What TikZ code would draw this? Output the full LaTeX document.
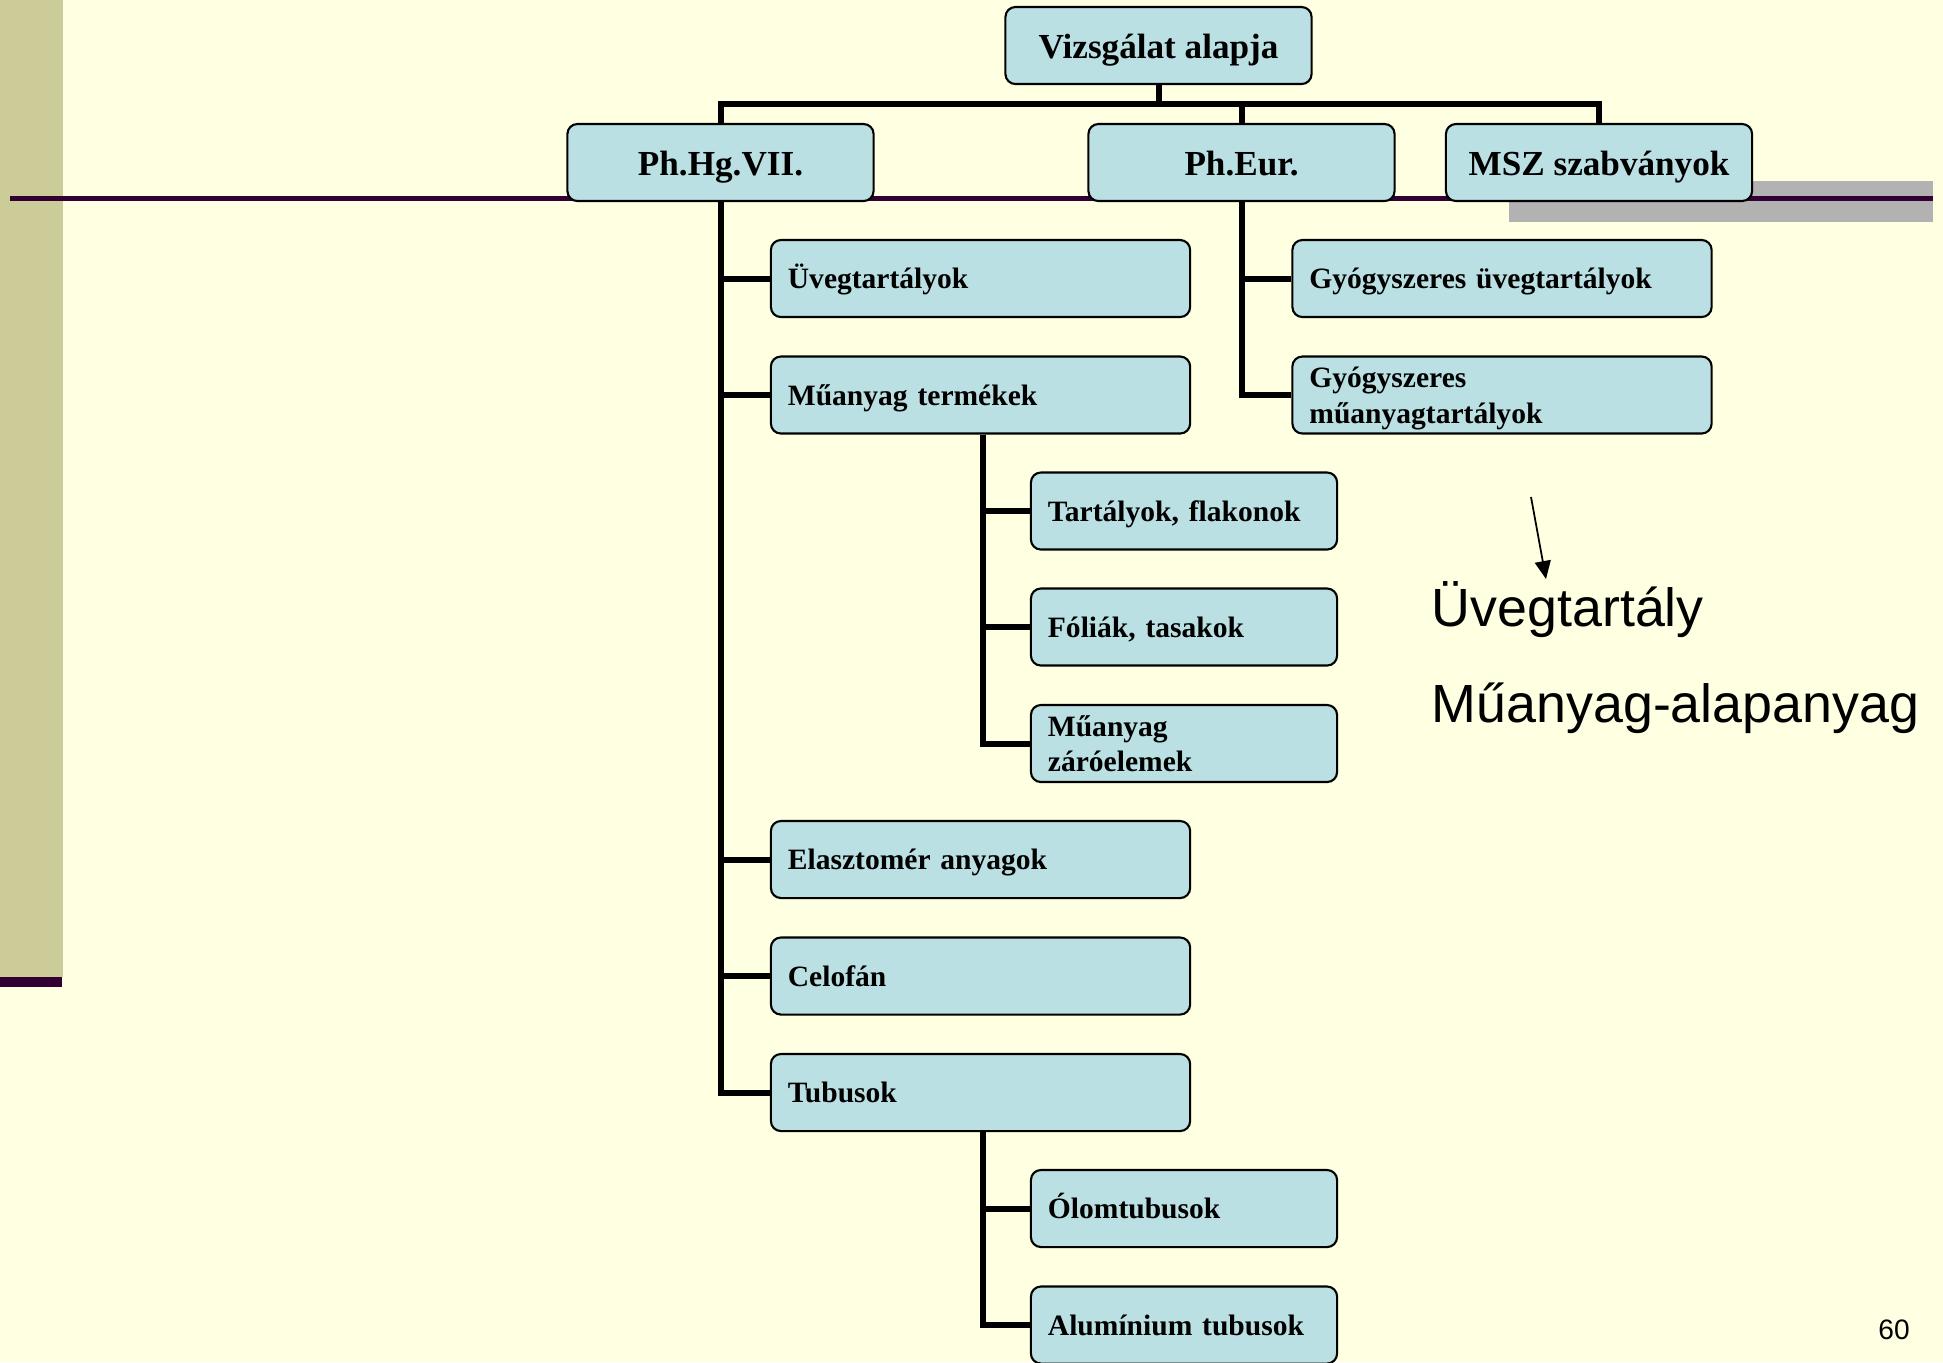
\documentclass[tikz,border=0pt]{standalone}
\usepackage{fontspec}
\setmainfont{Liberation Serif}
\newfontfamily\notefont{Liberation Sans}
\usetikzlibrary{arrows.meta,positioning}
\definecolor{SlideYellow}{RGB}{255,255,225}
\definecolor{SlideOlive}{RGB}{204,204,153}
\definecolor{SlidePlum}{RGB}{51,0,51}
\definecolor{SlideGray}{RGB}{178,178,178}
\definecolor{BoxBlue}{RGB}{187,224,227}

\begin{document}
\begin{tikzpicture}[x=0.01cm,y=-0.01cm,
  box/.style={draw=black,line width=0.6pt,fill=BoxBlue,rounded corners=0.1cm,minimum height=0.77cm,inner xsep=0.17cm,inner ysep=0pt},
  headbox/.style={box,minimum width=3.06cm,text height=0.25cm,text depth=0cm,font=\fontsize{10}{12}\selectfont\bfseries},
  widebox/.style={box,text width=3.85cm,align=left,text height=0.2cm,text depth=0cm,font=\fontsize{8.4}{10}\selectfont\bfseries},
  smallbox/.style={box,text width=2.72cm,align=left,text height=0.2cm,text depth=0cm,font=\fontsize{8.4}{10}\selectfont\bfseries},
  twoline/.style={text height=0.21cm,text depth=0.352cm},
  link/.style={line width=1.7pt},
  note/.style={font=\notefont\fontsize{15.3}{18}\selectfont,anchor=base west,inner sep=0pt}]
\useasboundingbox (0,0) rectangle (1943,1362);
% slide background
\fill[SlideYellow] (0,0) rectangle (1943,1362);
\fill[SlideOlive] (0,0) rectangle (63,977);
\fill[SlidePlum] (0,977) rectangle (62,987);
\fill[SlideGray] (1509,181) rectangle (1933,222);
\fill[SlidePlum] (10,196) rectangle (1933,201);
% boxes
\node[headbox] (top) at (1158.5,45.5){Vizsgálat alapja};
\node[headbox] (phhg) at (720.5,162.5){Ph.Hg.VII.};
\node[headbox] (pheur) at (1241.5,162.5){Ph.Eur.};
\node[headbox] (msz) at (1599,162.5){MSZ szabványok};
\node[widebox] (uveg) at (980.5,278.5){Üvegtartályok};
\node[widebox] (muanyag) at (980.5,395){Műanyag termékek};
\node[smallbox] (tartaly) at (1184,511){Tartályok, flakonok};
\node[smallbox] (folia) at (1184,627){Fóliák, tasakok};
\node[smallbox,twoline] (zaro) at (1184,743.5){Műanyag\\záróelemek};
\node[widebox] (elaszt) at (980.5,859.5){Elasztomér anyagok};
\node[widebox] (celofan) at (980.5,976){Celofán};
\node[widebox] (tubus) at (980.5,1092.5){Tubusok};
\node[smallbox] (olom) at (1184,1208.5){Ólomtubusok};
\node[smallbox] (alu) at (1184,1325){Alumínium tubusok};
\node[widebox] (gyuveg) at (1502,278.5){Gyógyszeres üvegtartályok};
\node[widebox,twoline] (gymu) at (1502,395){Gyógyszeres\\műanyagtartályok};
% connectors
\coordinate (bar) at (1158.5,104);
\draw[link] (top.south) -- (bar);
\draw[link] (phhg.north) |- (bar) -| (msz.north);
\draw[link] (pheur.north) -- (pheur.north |- bar);
\foreach \c in {uveg,muanyag,elaszt,celofan,tubus}
  \draw[link] (phhg.south) |- (\c.west);
\foreach \c in {tartaly,folia,zaro}
  \draw[link] ([xshift=0.025cm]muanyag.south) |- (\c.west);
\foreach \c in {olom,alu}
  \draw[link] ([xshift=0.025cm]tubus.south) |- (\c.west);
\foreach \c in {gyuveg,gymu}
  \draw[link] (pheur.south) |- (\c.west);
% note on the right
\coordinate (arrfrom) at (1531,497);
\coordinate (arrto) at (1546,579);
\draw[line width=0.5pt,-{Triangle[length=0.18cm,width=0.16cm]}] (arrfrom) -- (arrto);
\node[note] (uvegnote) at (1431,626){Üvegtartály};
\node[note] (anyagnote) at (1431,722){Műanyag-alapanyag};
\node[font=\notefont\fontsize{8}{10}\selectfont] (pagenum) at (1894,1330){60};
\end{tikzpicture}
\end{document}
